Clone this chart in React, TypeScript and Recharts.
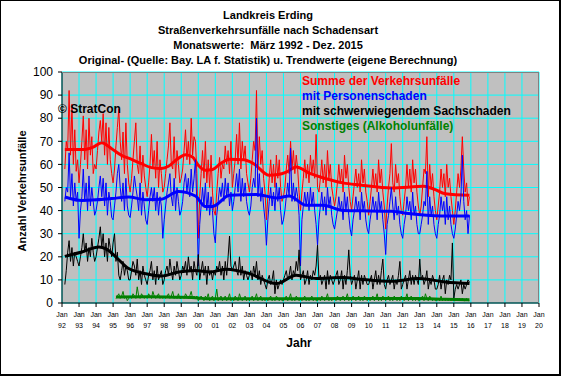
import { LineChart, Line, XAxis, YAxis, CartesianGrid } from 'recharts';

// Monatswerte ab März 1992 (Monat 2, gezählt ab Jan 1992) bis Dez. 2015
const START = 2;
const SONST_START = 38; // Sonstiges erst ab März 1995

const summe = [
  58, 70, 66, 92, 64, 86, 60, 75, 57, 62, // 1992
  52, 60, 70, 81, 62, 75, 58, 80, 64, 72, 56, 60, // 1993
  58, 66, 74, 79, 70, 82, 64, 78, 60, 76, 62, 56, // 1994
  52, 58, 68, 76, 84, 70, 62, 74, 56, 78, 60, 52, // 1995
  48, 54, 62, 70, 78, 60, 56, 68, 52, 64, 55, 50, // 1996
  46, 52, 60, 73, 58, 66, 54, 70, 50, 62, 56, 48, // 1997
  50, 56, 62, 68, 78, 60, 58, 72, 54, 66, 60, 52, // 1998
  54, 58, 66, 75, 62, 70, 60, 80, 64, 72, 70, 56, // 1999
  28, 46, 56, 66, 54, 70, 52, 62, 50, 64, 48, 40, // 2000
  38, 48, 56, 63, 54, 60, 58, 68, 60, 66, 56, 70, // 2001
  50, 56, 62, 73, 60, 78, 58, 70, 62, 68, 56, 52, // 2002
  48, 54, 62, 70, 66, 92, 58, 72, 60, 66, 54, 48, // 2003
  36, 46, 54, 62, 52, 60, 50, 64, 54, 62, 50, 44, // 2004
  46, 50, 58, 64, 56, 70, 58, 66, 56, 64, 58, 48, // 2005
  40, 48, 54, 62, 54, 60, 52, 64, 56, 62, 54, 73, // 2006
  50, 48, 54, 62, 52, 60, 50, 66, 54, 60, 50, 46, // 2007
  42, 46, 52, 60, 52, 58, 48, 64, 54, 60, 50, 44, // 2008
  40, 46, 52, 58, 50, 56, 48, 62, 52, 58, 48, 44, // 2009
  38, 44, 50, 58, 50, 56, 48, 62, 52, 58, 48, 42, // 2010
  32, 42, 50, 56, 69, 52, 48, 60, 52, 56, 46, 40, // 2011
  38, 44, 50, 60, 50, 58, 48, 62, 52, 58, 48, 42, // 2012
  38, 42, 50, 58, 56, 72, 46, 60, 50, 56, 46, 40, // 2013
  36, 42, 48, 58, 50, 56, 46, 60, 50, 54, 46, 40, // 2014
  34, 40, 48, 56, 50, 58, 72, 58, 48, 52, 42, 46, // 2015
];

const personen = [
  44, 50, 48, 65, 46, 56, 42, 52, 44, 48, // 1992
  28, 40, 46, 58, 44, 52, 40, 55, 42, 50, 44, 38, // 1993
  40, 44, 50, 55, 46, 54, 42, 52, 38, 48, 44, 37, // 1994
  36, 42, 48, 56, 60, 50, 44, 52, 40, 54, 42, 38, // 1995
  37, 42, 48, 55, 50, 46, 40, 52, 38, 48, 42, 36, // 1996
  34, 40, 46, 50, 44, 50, 40, 48, 38, 46, 42, 28, // 1997
  36, 42, 48, 52, 56, 46, 42, 54, 40, 50, 44, 38, // 1998
  40, 44, 52, 56, 48, 54, 46, 58, 48, 54, 62, 42, // 1999
  16, 34, 42, 50, 42, 52, 40, 48, 38, 46, 40, 30, // 2000
  26, 38, 44, 50, 46, 52, 44, 54, 46, 52, 42, 48, // 2001
  40, 44, 50, 56, 48, 58, 44, 54, 46, 52, 44, 40, // 2002
  38, 42, 50, 54, 50, 80, 46, 56, 44, 50, 42, 36, // 2003
  25, 36, 44, 50, 42, 48, 40, 52, 44, 50, 40, 34, // 2004
  36, 40, 46, 52, 46, 67, 44, 52, 44, 50, 46, 38, // 2005
  16, 36, 42, 48, 42, 48, 40, 50, 42, 48, 40, 34, // 2006
  25, 36, 42, 48, 40, 46, 38, 50, 42, 46, 38, 34, // 2007
  32, 36, 40, 46, 40, 44, 36, 48, 40, 46, 38, 32, // 2008
  29, 36, 40, 46, 40, 44, 36, 48, 40, 44, 36, 32, // 2009
  30, 36, 40, 46, 40, 44, 36, 48, 40, 44, 36, 30, // 2010
  21, 34, 38, 44, 50, 42, 36, 46, 38, 42, 34, 30, // 2011
  28, 34, 38, 46, 40, 44, 36, 48, 38, 42, 34, 30, // 2012
  30, 34, 38, 44, 42, 57, 34, 46, 38, 42, 34, 30, // 2013
  28, 34, 38, 46, 40, 44, 34, 46, 36, 42, 34, 30, // 2014
  28, 32, 38, 44, 40, 46, 64, 44, 36, 40, 30, 38, // 2015
];

const sachschaden = [
  8, 14, 22, 27, 18, 24, 16, 22, 20, 18, // 1992
  16, 20, 24, 30, 22, 26, 18, 24, 20, 28, 22, 18, // 1993
  20, 24, 28, 33, 24, 30, 20, 26, 18, 28, 24, 20, // 1994
  26, 30, 18, 22, 12, 10, 14, 18, 12, 16, 14, 10, // 1995
  10, 14, 18, 16, 12, 19, 10, 14, 8, 16, 12, 10, // 1996
  8, 12, 14, 18, 10, 14, 8, 16, 10, 12, 14, 8, // 1997
  10, 14, 16, 12, 19, 14, 10, 16, 12, 18, 14, 10, // 1998
  12, 16, 14, 18, 12, 20, 14, 16, 10, 18, 14, 12, // 1999
  21, 10, 14, 18, 12, 16, 8, 16, 12, 14, 10, 14, // 2000
  12, 16, 14, 18, 12, 16, 10, 18, 12, 20, 29, 16, // 2001
  14, 16, 18, 14, 12, 20, 12, 16, 10, 14, 12, 10, // 2002
  12, 14, 10, 16, 12, 18, 10, 14, 8, 12, 10, 8, // 2003
  6, 10, 12, 8, 10, 14, 4, 10, 6, 8, 10, 8, // 2004
  10, 12, 14, 10, 12, 16, 10, 14, 12, 18, 14, 23, // 2005
  10, 12, 14, 8, 10, 14, 8, 12, 10, 14, 12, 16, // 2006
  25, 10, 12, 8, 10, 12, 6, 14, 8, 12, 10, 8, // 2007
  10, 12, 14, 8, 10, 14, 6, 12, 8, 14, 23, 12, // 2008
  8, 10, 12, 6, 10, 14, 6, 12, 8, 12, 10, 8, // 2009
  8, 10, 12, 6, 10, 14, 8, 12, 8, 14, 19, 8, // 2010
  6, 10, 12, 8, 10, 12, 6, 10, 8, 12, 18, 6, // 2011
  8, 10, 12, 6, 10, 14, 8, 12, 8, 12, 10, 8, // 2012
  19, 10, 12, 8, 10, 14, 6, 10, 8, 12, 10, 6, // 2013
  6, 8, 12, 6, 10, 12, 4, 10, 8, 12, 10, 26, // 2014
  2, 6, 8, 6, 8, 10, 4, 8, 6, 8, 10, 9, // 2015
];

const sonstiges = [
  2, 3, 4, 2, 3, 5, 2, 3, 1, 2, // 1995
  3, 2, 4, 3, 2, 7, 3, 2, 4, 3, 2, 3, // 1996
  2, 4, 3, 2, 5, 3, 2, 3, 4, 2, 3, 2, // 1997
  3, 2, 3, 4, 2, 3, 5, 2, 3, 2, 4, 2, // 1998
  2, 3, 2, 4, 3, 2, 3, 5, 2, 3, 2, 3, // 1999
  1, 2, 3, 2, 1, 3, 2, 4, 1, 2, 3, 1, // 2000
  2, 6, 1, 2, 3, 1, 2, 3, 1, 2, 4, 1, // 2001
  2, 1, 3, 2, 1, 4, 2, 1, 2, 3, 1, 2, // 2002
  1, 2, 3, 1, 2, 4, 1, 2, 3, 1, 2, 1, // 2003
  2, 1, 2, 3, 1, 2, 1, 3, 2, 1, 2, 1, // 2004
  1, 2, 3, 1, 2, 4, 1, 2, 1, 3, 2, 1, // 2005
  2, 1, 2, 3, 1, 2, 1, 2, 3, 1, 2, 1, // 2006
  1, 2, 1, 3, 2, 1, 2, 4, 1, 2, 1, 2, // 2007
  2, 1, 3, 2, 1, 2, 3, 1, 2, 4, 1, 2, // 2008
  1, 3, 2, 1, 2, 3, 1, 2, 1, 3, 2, 1, // 2009
  2, 1, 2, 3, 1, 2, 4, 1, 2, 1, 3, 2, // 2010
  1, 2, 3, 1, 2, 1, 3, 2, 1, 2, 1, 3, // 2011
  2, 1, 2, 4, 1, 2, 3, 1, 2, 1, 2, 1, // 2012
  1, 2, 3, 1, 4, 2, 1, 3, 2, 1, 2, 1, // 2013
  1, 2, 1, 3, 1, 2, 1, 2, 1, 2, 1, 2, // 2014
  1, 1, 2, 1, 2, 1, 2, 1, 1, 2, 1, 1, // 2015
];

// Trendwerte als [Monat, Wert]
const summeTrend = [
  [2, 66.4], [16, 66.5], [22, 67.5], [28, 69.4], [35, 66.8], [42, 63.9], [49, 62.2],
  [56, 60.3], [63, 58.6], [70, 58.2], [75, 59.2], [81, 62.2], [87, 64.2], [92, 63.2],
  [96, 59.6], [101, 57.5], [106, 57.8], [112, 60.5], [118, 62.2], [128, 62.0], [135, 60.3],
  [146, 55.3], [152, 55.6], [158, 56.7], [165, 58.9], [175, 56.0], [186, 53.8], [198, 52.0],
  [210, 51.1], [232, 49.8], [255, 50.5], [262, 49.3], [270, 47.3], [287, 46.6],
];
const personenTrend = [
  [2, 45.9], [14, 44.4], [35, 45.2], [47, 45.9], [59, 44.7], [70, 44.9], [82, 48.3],
  [94, 46.3], [101, 41.8], [106, 41.8], [118, 46.6], [137, 47.0], [151, 45.5], [160, 46.3],
  [172, 42.3], [184, 42.3], [198, 40.0], [210, 39.9], [232, 39.7], [244, 38.7], [267, 37.7],
  [287, 37.7],
];
const sachTrend = [
  [2, 20.2], [14, 22.1], [26, 24.2], [31, 23.4], [38, 19.9], [47, 14.9], [59, 12.7],
  [70, 11.7], [82, 13.4], [94, 14.1], [104, 13.4], [116, 14.6], [132, 12.7], [151, 8.4],
  [165, 12.0], [179, 10.6], [198, 11.0], [210, 10.3], [232, 9.4], [251, 10.6], [270, 9.1],
  [287, 8.4],
];
const sonstTrend = [
  [38, 2.6], [60, 2.7], [80, 2.5], [96, 2.2], [102, 1.8], [150, 1.8], [200, 1.9],
  [250, 1.9], [270, 1.6], [287, 1.4],
];

const yearTicks = Array.from({ length: 29 }, (_, i) => i * 12);
const monthTicks = Array.from({ length: 337 }, (_, i) => i);
const yTicks = [0, 10, 20, 30, 40, 50, 60, 70, 80, 90, 100];

type Row = { [k: string]: number | null };

const rows: Row[] = summe.map((v, i) => {
  const m = START + i;
  return {
    m,
    summe: v,
    personen: personen[i],
    sach: sachschaden[i],
    sonst: m >= SONST_START ? sonstiges[m - SONST_START] : null,
  };
});

function addTrend(key: string, pts: number[][]) {
  pts.forEach(([m, v]) => {
    rows[m - START][key] = v;
  });
}
addTrend('summeT', summeTrend);
addTrend('personenT', personenTrend);
addTrend('sachT', sachTrend);
addTrend('sonstT', sonstTrend);

const FONT = 'Arial, "Liberation Sans", sans-serif';

function YearTick({ x, y, payload }: any) {
  const yr = String((1992 + payload.value / 12) % 100).padStart(2, '0');
  return (
    <text x={x} textAnchor="middle" fontSize={7} fontFamily={FONT} fill="#000">
      <tspan x={x} y={y + 8}>Jan</tspan>
      <tspan x={x} y={y + 19}>{yr}</tspan>
    </text>
  );
}

const legend = [
  { label: 'Summe der Verkehrsunfälle', color: '#ff0000' },
  { label: 'mit Personenschaden', color: '#0000ff' },
  { label: 'mit schwerwiegendem Sachschaden', color: '#000000' },
  { label: 'Sonstiges (Alkoholunfälle)', color: '#008000' },
];

const titles = [
  'Landkreis Erding',
  'Straßenverkehrsunfälle nach Schadensart',
  'Monatswerte:  März 1992 - Dez. 2015',
  'Original- (Quelle: Bay. LA f. Statistik) u. Trendwerte (eigene Berechnung)',
];

export default function App() {
  return (
    <div
      style={{
        position: 'absolute',
        left: 0,
        top: 0,
        width: 562,
        height: 376,
        background: '#fff',
        fontFamily: FONT,
      }}
    >
      <LineChart width={562} height={376} data={rows} margin={{ top: 72, right: 23, left: 0, bottom: 43 }}>
        <CartesianGrid stroke="#00ffff" fill="#c0c0c0" fillOpacity={1} />
        <XAxis
          xAxisId="minor"
          type="number"
          dataKey="m"
          domain={[0, 336]}
          ticks={monthTicks}
          tick={false}
          tickSize={2}
          axisLine={false}
          tickLine={{ stroke: '#000' }}
          height={0}
        />
        <XAxis
          type="number"
          dataKey="m"
          domain={[0, 336]}
          ticks={yearTicks}
          interval={0}
          tick={<YearTick />}
          tickSize={4}
          axisLine={{ stroke: '#000' }}
          tickLine={{ stroke: '#000' }}
          height={30}
        />
        <YAxis
          domain={[0, 100]}
          ticks={yTicks}
          interval={0}
          width={62}
          tickSize={4}
          tickMargin={5}
          axisLine={{ stroke: '#000' }}
          tickLine={{ stroke: '#000' }}
          tick={{ fontSize: 12, fill: '#000', fontFamily: FONT }}
        />
        <Line dataKey="summe" stroke="#ff0000" strokeWidth={1} dot={false} isAnimationActive={false} />
        <Line dataKey="summeT" type="monotone" stroke="#ff0000" strokeWidth={3} dot={false} connectNulls isAnimationActive={false} />
        <Line dataKey="personen" stroke="#0000ff" strokeWidth={1} dot={false} isAnimationActive={false} />
        <Line dataKey="personenT" type="monotone" stroke="#0000ff" strokeWidth={3} dot={false} connectNulls isAnimationActive={false} />
        <Line dataKey="sach" stroke="#000000" strokeWidth={1} dot={false} isAnimationActive={false} />
        <Line dataKey="sachT" type="monotone" stroke="#000000" strokeWidth={3} dot={false} connectNulls isAnimationActive={false} />
        <Line dataKey="sonst" stroke="#008000" strokeWidth={1} dot={false} isAnimationActive={false} />
        <Line dataKey="sonstT" type="monotone" stroke="#008000" strokeWidth={3} dot={false} connectNulls isAnimationActive={false} />
      </LineChart>

      {/* Rahmen der Zeichenfläche */}
      <div
        style={{
          position: 'absolute',
          left: 62,
          top: 72,
          width: 477,
          height: 231,
          boxSizing: 'border-box',
          borderTop: '1px solid #808080',
          borderRight: '1px solid #808080',
          pointerEvents: 'none',
        }}
      />

      <div style={{ position: 'absolute', left: 0, top: 8, width: 536, textAlign: 'center', fontSize: 11, fontWeight: 'bold', lineHeight: '15px' }}>
        {titles.map((t) => (
          <div key={t} style={{ whiteSpace: 'pre' }}>{t}</div>
        ))}
      </div>

      <div style={{ position: 'absolute', left: 302, top: 74, fontSize: 12, fontWeight: 'bold', lineHeight: '15px' }}>
        {legend.map((l) => (
          <div key={l.label} style={{ color: l.color, whiteSpace: 'nowrap' }}>{l.label}</div>
        ))}
      </div>

      <div style={{ position: 'absolute', left: 58, top: 101, fontSize: 12, fontWeight: 'bold', lineHeight: '16px' }}>
        © StratCon
      </div>

      <div
        style={{
          position: 'absolute',
          left: 22,
          top: 191,
          transform: 'translate(-50%, -50%) rotate(-90deg)',
          fontSize: 11,
          fontWeight: 'bold',
          whiteSpace: 'nowrap',
        }}
      >
        Anzahl Verkehrsunfälle
      </div>

      <div style={{ position: 'absolute', left: 299, top: 343, transform: 'translate(-50%, -50%)', fontSize: 12, fontWeight: 'bold' }}>
        Jahr
      </div>

      {/* äußerer Rahmen */}
      <div
        style={{
          position: 'absolute',
          left: 0,
          top: 0,
          width: 561,
          height: 376,
          boxSizing: 'border-box',
          borderLeft: '1px solid #000',
          borderTop: '1px solid #000',
          borderRight: '2px solid #000',
          borderBottom: '2px solid #000',
          pointerEvents: 'none',
        }}
      />
    </div>
  );
}
